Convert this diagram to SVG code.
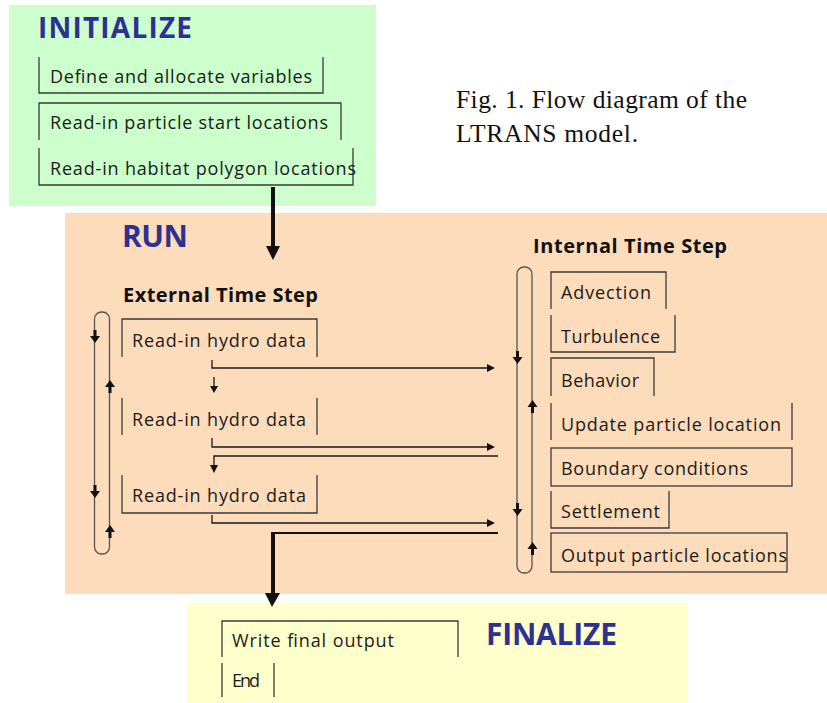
<svg xmlns="http://www.w3.org/2000/svg" width="827" height="703" viewBox="0 0 827 703">
<style>
.box{fill:none;stroke:#3a3a3a;stroke-width:1.3}
.t{font-family:"Open Sans","Liberation Sans",sans-serif;font-size:18px;fill:#1a1a1a}
.h{font-family:"Open Sans","Liberation Sans",sans-serif;font-weight:bold;fill:#2e3192}
.s{font-family:"Open Sans","Liberation Sans",sans-serif;font-weight:bold;font-size:20px;fill:#111}
.cap{font-family:"Liberation Serif","Times New Roman",serif;font-size:25.5px;fill:#111}
.ln{fill:none;stroke:#1a1a1a;stroke-width:1.3}
.loop{fill:none;stroke:#555;stroke-width:1.3}
.ah{fill:#111;stroke:none}
.thick{fill:none;stroke:#111;stroke-width:4}
</style>
<rect x="9" y="5" width="367" height="201" fill="#ccffcc"/>
<rect x="65" y="213" width="762" height="381" fill="#fddcbc"/>
<rect x="187" y="603" width="501" height="100" fill="#ffffcc"/>

<text class="cap" x="456" y="108" textLength="291">Fig. 1. Flow diagram of the</text>
<text class="cap" x="456" y="142" textLength="182">LTRANS model.</text>

<g id="initialize">
<text class="h" x="38" y="38" font-size="28" textLength="154">INITIALIZE</text>
<g id="define"><path class="box" d="M39,57 V93 H323 V57"/><text class="t" x="50" y="83" textLength="262">Define and allocate variables</text></g>
<g id="readStart"><path class="box" d="M39,140 V103 H341 V140"/><text class="t" x="50" y="129" textLength="278">Read-in particle start locations</text></g>
<g id="readHabitat"><path class="box" d="M39,148 V185 H353 V148"/><text class="t" x="50" y="175" textLength="306">Read-in habitat polygon locations</text></g>
</g>

<g id="run">
<text class="h" x="122" y="247" font-size="30" textLength="66">RUN</text>
<text class="s" x="123" y="302" textLength="195">External Time Step</text>
<text class="s" x="533" y="253" textLength="194">Internal Time Step</text>
<g id="hydro1"><path class="box" d="M122,357 V319 H317 V357"/><text class="t" x="132" y="347" textLength="174">Read-in hydro data</text></g>
<g id="hydro2"><path class="box" d="M122,398 V435 M317,398 V435"/><text class="t" x="132" y="426" textLength="174">Read-in hydro data</text></g>
<g id="hydro3"><path class="box" d="M122,475 V513 H317 V475"/><text class="t" x="132" y="502" textLength="174">Read-in hydro data</text></g>
<g id="advection"><path class="box" d="M551,309 V272 H666 V309"/><text class="t" x="561" y="299" textLength="90">Advection</text></g>
<g id="turbulence"><path class="box" d="M551,315 V352 H675 V315"/><text class="t" x="561" y="343" textLength="99">Turbulence</text></g>
<g id="behavior"><path class="box" d="M551,396 V358 H654 V396"/><text class="t" x="561" y="387" textLength="78">Behavior</text></g>
<g id="update"><path class="box" d="M551,403 V440 M792,403 V440"/><text class="t" x="561" y="431" textLength="220">Update particle location</text></g>
<g id="boundary"><rect class="box" x="551" y="448" width="241" height="38"/><text class="t" x="561" y="475" textLength="187">Boundary conditions</text></g>
<g id="settlement"><path class="box" d="M551,491 V528 H669 V491"/><text class="t" x="561" y="518" textLength="99">Settlement</text></g>
<g id="output"><rect class="box" x="551" y="533" width="236" height="39"/><text class="t" x="561" y="562" textLength="226">Output particle locations</text></g>
</g>

<g id="finalize">
<text class="h" x="486" y="645" font-size="30" textLength="131">FINALIZE</text>
<g id="writeFinal"><path class="box" d="M222,657 V621 H458 V657"/><text class="t" x="232" y="647" textLength="162">Write final output</text></g>
<g id="end"><path class="box" d="M222,663 V697 M274,663 V697"/><text class="t" x="232" y="687" font-size="15" textLength="28">End</text></g>
</g>

<g id="connectors">
<path class="thick" d="M273,187 V248"/>
<polygon class="ah" points="266,246 280,246 273,260"/>
<path fill="none" stroke="#111" stroke-width="2" d="M498,533 H272"/>
<path class="thick" d="M273,532 V595"/>
<polygon class="ah" points="265,593 280,593 272,607"/>
<path class="ln" d="M212,360 V368 H488"/>
<polygon class="ah" points="487,364 495,368 487,372"/>
<path class="ln" d="M212,438 V447 H488"/>
<polygon class="ah" points="487,443 495,447 487,451"/>
<path class="ln" d="M212,515 V523 H488"/>
<polygon class="ah" points="487,519 495,523 487,527"/>
<path class="ln" d="M498,456 H214 V466"/>
<polygon class="ah" points="210,465 218,465 214,473"/>
<path class="ln" d="M214,377 V387"/>
<polygon class="ah" points="210,386 218,386 214,393"/>
<rect class="loop" x="94.5" y="312" width="15" height="242" rx="7"/>
<path class="ah" d="M93.5,330 h3 v6 h3.5 l-5,7 l-5,-7 h3.5z"/>
<path class="ah" d="M93.5,485 h3 v6 h3.5 l-5,7 l-5,-7 h3.5z"/>
<path class="ah" d="M108.5,393 h3 v-6 h3.5 l-5,-7 l-5,7 h3.5z"/>
<path class="ah" d="M108.5,538 h3 v-6 h3.5 l-5,-7 l-5,7 h3.5z"/>
<rect class="loop" x="517" y="267" width="15" height="306" rx="7"/>
<path class="ah" d="M516,351 h3 v6 h3.5 l-5,7 l-5,-7 h3.5z"/>
<path class="ah" d="M516,503 h3 v6 h3.5 l-5,7 l-5,-7 h3.5z"/>
<path class="ah" d="M531,413 h3 v-6 h3.5 l-5,-7 l-5,7 h3.5z"/>
<path class="ah" d="M531,555 h3 v-6 h3.5 l-5,-7 l-5,7 h3.5z"/>
</g>
</svg>
